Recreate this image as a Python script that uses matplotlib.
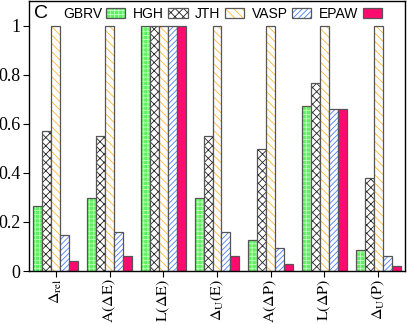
import numpy as np
import matplotlib
matplotlib.use('Agg')
import matplotlib.pyplot as plt

categories = [r'$\Delta_{\rm rel}$', r'$\mathrm{A}(\Delta\mathrm{E})$', r'$\mathrm{L}(\Delta\mathrm{E})$',
              r'$\Delta_{\rm U}(\mathrm{E})$', r'$\mathrm{A}(\Delta\mathrm{P})$', r'$\mathrm{L}(\Delta\mathrm{P})$',
              r'$\Delta_{\rm U}(\mathrm{P})$']
gbrv = [0.263, 0.298, 1.0, 0.298, 0.128, 0.672, 0.086]
hgh = [0.571, 0.552, 1.0, 0.552, 0.497, 0.765, 0.379]
jth = [1.0, 1.0, 1.0, 1.0, 1.0, 1.0, 1.0]
vasp = [0.148, 0.158, 1.0, 0.158, 0.093, 0.659, 0.061]
epaw = [0.040, 0.063, 1.0, 0.062, 0.027, 0.659, 0.020]

series = [
    ('GBRV', gbrv, '#5ef05e', '#c0ffc0', '++++'),
    ('HGH', hgh, 'white', '#222222', 'xxxx'),
    ('JTH', jth, 'white', '#ffb732', '\\\\\\\\'),
    ('VASP', vasp, '#ffffff', '#4a7cff', '//////'),
    ('EPAW', epaw, '#ff0a6e', '#ff0a6e', None),
]

plt.rcParams['font.family'] = 'serif'
plt.rcParams['font.serif'] = ['Liberation Serif']
plt.rcParams['mathtext.fontset'] = 'stix'
plt.rcParams['hatch.linewidth'] = 0.6


def plot_chart():
  fig = plt.figure(figsize=(4.07, 3.24), dpi=100)
  ax = fig.add_axes([29 / 407, 53 / 324, 376 / 407, 270 / 324])
  x = np.arange(len(categories))
  w = 1 / 6
  handles = []
  for i, (name, vals, face, hcol, hatch) in enumerate(series):
    pos = x + (i - 2) * w
    h1 = ax.bar(pos, vals, w, color=face, edgecolor=hcol, hatch=hatch, linewidth=0)
    h2 = ax.bar(pos, vals, w, fill=False, edgecolor='#555555', linewidth=0.9)
    handles.append((h1, h2))
  ax.set_xlim(-0.5, len(categories) - 0.5)
  ax.set_ylim(0, 1.1)
  ax.set_yticks([0, 0.2, 0.4, 0.6, 0.8, 1.0])
  ax.set_yticklabels(['0', '0.2', '0.4', '0.6', '0.8', '1'])
  ax.set_xticks(x)
  ax.set_xticklabels(categories, rotation=90)
  ax.tick_params(axis='y', labelsize=13, direction='out', length=4, width=0.8, pad=2)
  ax.tick_params(axis='x', labelsize=11.5, direction='out', length=4, width=0.8, pad=1.5)
  for s in ax.spines.values():
    s.set_linewidth(1.0)
  ax.text(0.012, 0.985, 'C', transform=ax.transAxes, ha='left', va='top',
          fontsize=14, family='Liberation Sans')
  ax.legend(handles, [s[0] for s in series], ncol=5, loc='upper left',
            bbox_to_anchor=(0.075, 1.0), frameon=False, markerfirst=False,
            prop={'family': 'Liberation Sans', 'size': 10},
            handlelength=1.4, handleheight=0.7, handletextpad=0.3,
            columnspacing=0.55, borderpad=0.3, borderaxespad=0.1)
  fig.savefig('out.png', dpi=100)


plot_chart()
